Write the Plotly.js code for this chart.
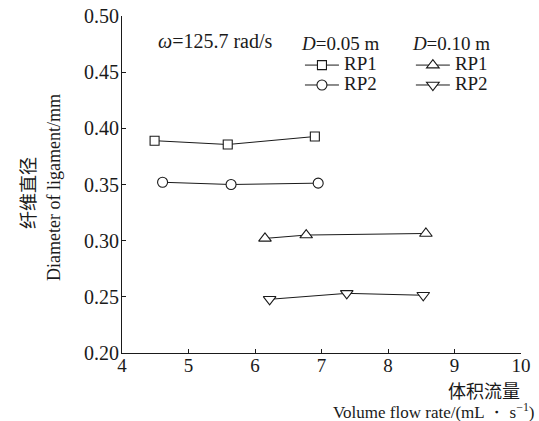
<!DOCTYPE html>
<html>
<head>
<meta charset="utf-8">
<script src="https://cdn.plot.ly/plotly-3.0.1.min.js"></script>
<style>html,body{margin:0;padding:0;background:#fff;}#chart{width:539px;height:421px;}</style>
</head>
<body>
<div id="chart"></div>
<script>
// Data
const rp1_005_x = [4.49, 5.59, 6.90];
const rp1_005_y = [0.389, 0.3856, 0.3927];
const rp2_005_x = [4.61, 5.64, 6.95];
const rp2_005_y = [0.352, 0.350, 0.3512];
const rp1_010_x = [6.15, 6.77, 8.57];
const rp1_010_y = [0.302, 0.305, 0.3064];
const rp2_010_x = [6.22, 7.38, 8.53];
const rp2_010_y = [0.2478, 0.2531, 0.2514];
const seriesNames = ['RP1', 'RP2', 'RP1', 'RP2'];
const xTickVals = [4, 5, 6, 7, 8, 9, 10];
const yTickVals = [0.20, 0.25, 0.30, 0.35, 0.40, 0.45, 0.50];

const serif = 'Liberation Serif';
const cjk = 'Noto Sans CJK SC';
const ink = '#1a1a1a';

function trace(x, y, name, symbol, size, legend) {
  return {
    x: x, y: y,
    name: '<span style="font-size:19px">' + name + '</span>',
    type: 'scatter', mode: 'lines+markers',
    legend: legend,
    line: {color: ink, width: 1},
    marker: {symbol: symbol, size: size, color: '#ffffff', line: {color: ink, width: 1.1}}
  };
}

const data = [
  trace(rp1_005_x, rp1_005_y, seriesNames[0], 'square', 9, 'legend'),
  trace(rp2_005_x, rp2_005_y, seriesNames[1], 'circle', 10, 'legend'),
  trace(rp1_010_x, rp1_010_y, seriesNames[2], 'triangle-up', 11, 'legend2'),
  trace(rp2_010_x, rp2_010_y, seriesNames[3], 'triangle-down', 11, 'legend2')
];

function legendObj(x, title) {
  return {
    x: x, y: 0.972, xanchor: 'left', yanchor: 'top',
    bgcolor: 'rgba(0,0,0,0)', borderwidth: 0,
    font: {family: serif, size: 13, color: ink},
    tracegroupgap: 0, itemwidth: 34,
    title: {text: title, side: 'top', font: {family: serif, size: 19, color: ink}}
  };
}

const layout = {
  width: 539, height: 421,
  paper_bgcolor: '#ffffff', plot_bgcolor: '#ffffff',
  margin: {l: 122, r: 18, t: 16, b: 68},
  showlegend: true,
  font: {family: serif, size: 18, color: ink},
  xaxis: {
    range: [4, 10], tickvals: xTickVals, ticktext: xTickVals.map(String),
    ticks: 'inside', ticklen: 4, tickcolor: ink, tickwidth: 1,
    showline: true, linecolor: ink, linewidth: 1, mirror: false,
    showgrid: false, zeroline: false, ticklabelstandoff: -5,
    tickfont: {family: serif, size: 19, color: ink}
  },
  yaxis: {
    range: [0.2, 0.5], tickvals: yTickVals, ticktext: yTickVals.map(v => v.toFixed(2)),
    ticks: 'inside', ticklen: 4, tickcolor: ink, tickwidth: 1,
    showline: true, linecolor: ink, linewidth: 1, mirror: false,
    showgrid: false, zeroline: false, ticklabelstandoff: -2,
    tickfont: {family: serif, size: 20, color: ink}
  },
  legend: legendObj(0.446, '<i>D</i>=0.05 m'),
  legend2: legendObj(0.724, '<i>D</i>=0.10 m'),
  annotations: [
    {xref: 'paper', yref: 'paper', x: 0.085, y: 0.925, xanchor: 'left', yanchor: 'middle',
     text: '<i>ω</i>=125.7 rad/s', showarrow: false, font: {family: serif, size: 20, color: ink}},
    {xref: 'paper', yref: 'paper', x: -0.238, y: 0.475, xanchor: 'center', yanchor: 'middle',
     text: '纤维直径', textangle: -90, showarrow: false, font: {family: cjk, size: 18, color: ink}},
    {xref: 'paper', yref: 'paper', x: -0.1704, y: 0.49, xanchor: 'center', yanchor: 'middle',
     text: 'Diameter of ligament/mm', textangle: -90, showarrow: false, font: {family: serif, size: 18, color: ink}},
    {xref: 'paper', yref: 'paper', x: 1.0025, y: -0.111, xanchor: 'right', yanchor: 'middle',
     text: '体积流量', showarrow: false, font: {family: cjk, size: 18, color: ink}},
    {xref: 'paper', yref: 'paper', x: 1.04, y: -0.172, xanchor: 'right', yanchor: 'middle',
     text: 'Volume flow rate/(mL ・ s<sup>−1</sup>)', showarrow: false, font: {family: serif, size: 17, color: ink}}
  ]
};

Plotly.newPlot('chart', data, layout, {displayModeBar: false, staticPlot: true});
</script>
</body>
</html>
